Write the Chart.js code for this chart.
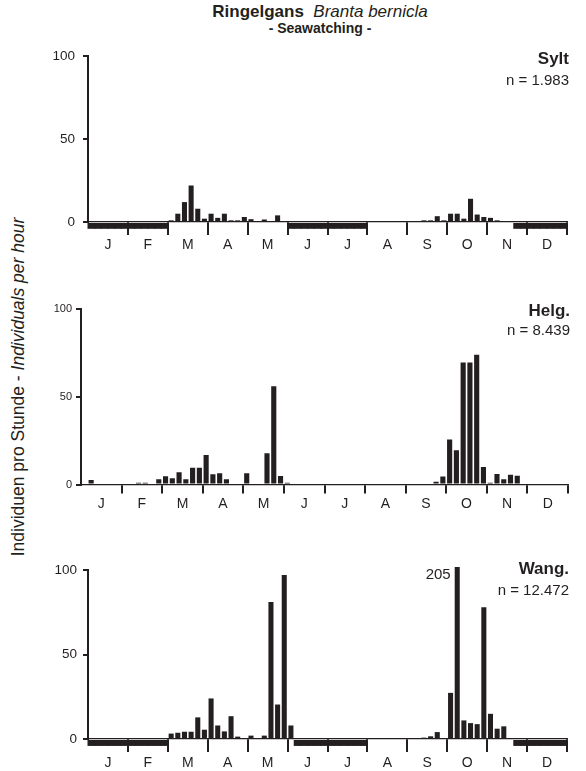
<!DOCTYPE html>
<html>
<head>
<meta charset="utf-8">
<script src="https://cdn.jsdelivr.net/npm/chart.js@4.4.0/dist/chart.umd.min.js"></script>
<style>
  body { margin: 0; background: #fff; }
  #page { position: relative; width: 586px; height: 771px; overflow: hidden; background: #fff;
          font-family: "Liberation Sans", Arial, Helvetica, sans-serif; color: #231f20; }
  canvas { position: absolute; left: 0; }
  .title { position: absolute; left: 120px; width: 400px; text-align: center; white-space: nowrap; }
  #ylab { position: absolute; left: 18px; top: 387px; font-size: 17.5px; white-space: nowrap;
          transform: translate(-50%, -50%) rotate(-90deg); }
</style>
</head>
<body>
<div id="page">
  <div class="title" style="top: 2px; font-size: 17px;"><b>Ringelgans</b>&nbsp;&nbsp;<i>Branta bernicla</i></div>
  <div class="title" style="top: 20px; font-size: 14px; font-weight: bold;">- Seawatching -</div>
  <div id="ylab">Individuen pro Stunde - <i>Individuals per hour</i></div>
  <canvas id="sylt" width="586" height="225" style="top: 40px;"></canvas>
  <canvas id="helg" width="586" height="220" style="top: 295px;"></canvas>
  <canvas id="wang" width="586" height="216" style="top: 555px;"></canvas>
</div>
<script>
// months on the axis, each split into six pentads (5-day periods)
const months = ['J', 'F', 'M', 'A', 'M', 'J', 'J', 'A', 'S', 'O', 'N', 'D'];
const pentads = months.flatMap((m, i) => [1, 2, 3, 4, 5, 6].map(p => (i + 1) + '.' + p));

// individuals per hour, null = no observations in that pentad
const syltValues = [
  null, null, null, null, null, null,
  null, null, null, null, null, null,
  1, 5, 12, 22, 8, 2,
  5, 2.5, 5, 1, 1, 3,
  1.7, 0, 1.5, 0, 4, 0,
  null, null, null, null, null, null,
  null, null, null, null, null, null,
  0, 0, 0, 0, 0, 0,
  0, 0, 1, 1, 3.5, 1,
  5, 5, 2, 14, 4.5, 3,
  2.5, 1, 0.5, 0, null, null,
  null, null, null, null, null, null
];
const helgValues = [
  0, 2.5, 0, 0, 0, 0,
  0, 0, 1, 1, 0.5, 3,
  4.7, 3.5, 7, 3, 9.6, 9.6,
  16.8, 5.8, 6.4, 3, 0, 0,
  6.4, 0, 0, 17.8, 56, 4.8,
  1, 0, 0, 0, 0, 0,
  0, 0, 0, 0, 0, 0,
  0, 0, 0, 0, 0, 0,
  0, 0, 0.5, 0.5, 1.5, 4.5,
  25.6, 19.5, 69.5, 69.5, 74, 10,
  1, 6, 3, 5.5, 5, 0,
  0.5, 0, 0.5, 0, 0, 0
];
const wangValues = [
  null, null, null, null, null, null,
  null, null, null, null, null, null,
  3.2, 3.7, 4.3, 4.3, 12.8, 5.5,
  24, 8, 4.5, 13.5, 1.4, 0.6,
  2, 0.6, 2, 81, 20.4, 97,
  8, null, null, null, null, null,
  null, null, null, null, null, null,
  0, 0, 0, 0, 0, 0,
  0, 0.5, 0.8, 1.6, 4.1, 0,
  27.3, 205, 11, 9.4, 8.8, 78,
  14.9, 6.1, 7.5, 0, null, null,
  null, null, null, null, null, null
];

const ink = '#231f20';
const family = '"Liberation Sans", Arial, Helvetica, sans-serif';
const noDataDepth = 4.1;

// station name, sample size and the value of any bar that runs off the top
const panelText = {
  id: 'panelText',
  afterDatasetsDraw(chart, args, o) {
    const { ctx, chartArea: a } = chart;
    ctx.save();
    ctx.fillStyle = ink;
    ctx.textBaseline = 'middle';
    ctx.textAlign = 'right';
    ctx.font = 'bold 17px ' + family;
    ctx.fillText(o.name, a.right + 2, a.top + o.nameDy);
    ctx.font = '15px ' + family;
    ctx.fillText(o.count, a.right + 2, a.top + o.countDy);
    const max = chart.scales.y.max;
    const meta = chart.getDatasetMeta(0);
    chart.data.datasets[0].data.forEach((v, i) => {
      if (v !== null && v > max) {
        const bar = meta.data[i];
        ctx.fillText(String(v), bar.x - bar.width / 2 - 4, a.top + 5);
      }
    });
    ctx.restore();
  }
};

function makePanel(id, values, cfg) {
  // black strip under the baseline where there were no counts
  const band = values.map(v => v === null ? [-noDataDepth, 0] : null);
  return new Chart(document.getElementById(id), {
    type: 'bar',
    data: {
      labels: pentads,
      datasets: [
        { data: values, stack: 'pentad', backgroundColor: ink, borderWidth: 0,
          barPercentage: 0.76, categoryPercentage: 1,
          clip: { left: false, top: 3, right: false, bottom: 0 } },
        { data: band, stack: 'pentad', backgroundColor: ink, borderWidth: 0,
          barPercentage: 1.15, categoryPercentage: 1, inflateAmount: 0, clip: false }
      ]
    },
    options: {
      responsive: false,
      animation: false,
      layout: { padding: { top: cfg.padTop, right: cfg.padRight, left: 0, bottom: 0 } },
      plugins: {
        legend: { display: false },
        tooltip: { enabled: false },
        panelText: { name: cfg.name, count: cfg.count, nameDy: cfg.nameDy, countDy: cfg.countDy }
      },
      scales: {
        x: { display: false, stacked: true, offset: true, grid: { offset: true } },
        xm: {
          type: 'category', labels: months, position: 'bottom', offset: true,
          afterFit: s => { s.height = cfg.xHeight; },
          border: { display: true, color: ink, width: 1.3 },
          grid: {
            offset: true, drawOnChartArea: false, drawTicks: true, tickLength: cfg.tickLen, lineWidth: 2,
            color: c => (c.index === 0 || c.index === months.length) ? 'rgba(0,0,0,0)' : ink
          },
          ticks: { color: ink, font: { size: 14, family: family }, padding: cfg.labelPad, autoSkip: false, maxRotation: 0 }
        },
        y: {
          min: 0, max: 100, stacked: false,
          afterFit: s => { s.width = cfg.left; },
          border: { display: true, color: ink, width: 2 },
          grid: { drawOnChartArea: false, drawTicks: true, tickLength: 5, lineWidth: 2, color: ink },
          ticks: { stepSize: 50, color: ink, font: { size: cfg.yFont, family: family }, padding: cfg.yPad }
        }
      }
    },
    plugins: [panelText]
  });
}

makePanel('sylt', syltValues, { name: 'Sylt', count: 'n = 1.983', nameDy: 3, countDy: 25,
  padTop: 12, padRight: 19, left: 88, xHeight: 43, tickLen: 13, labelPad: 2, yFont: 13.5, yPad: 8 });
makePanel('helg', helgValues, { name: 'Helg.', count: 'n = 8.439', nameDy: 2, countDy: 22,
  padTop: 14, padRight: 18, left: 81, xHeight: 30.5, tickLen: 9, labelPad: 2, yFont: 11, yPad: 4 });
makePanel('wang', wangValues, { name: 'Wang.', count: 'n = 12.472', nameDy: -1, countDy: 21,
  padTop: 15, padRight: 19, left: 88, xHeight: 32, tickLen: 13, labelPad: 3, yFont: 13.5, yPad: 6 });
</script>
</body>
</html>
